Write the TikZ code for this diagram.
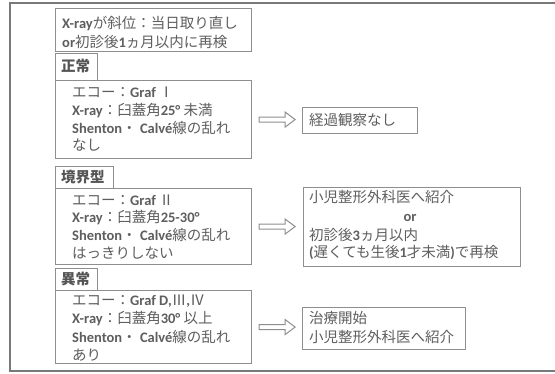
\documentclass[tikz,border=0pt]{standalone}
\usepackage{fontspec}
\setmainfont{Carlito}
\newfontfamily\jp{Noto Sans CJK JP}
\usetikzlibrary{calc}
\definecolor{txt}{HTML}{5E5E5E}
\definecolor{ln}{HTML}{8E8E8E}
\newcommand\J[1]{{\mdseries\jp #1}}
\tikzset{
  box/.style={draw=ln, line width=1.1pt, anchor=north west, inner sep=0pt, fill=white},
  tx/.style={anchor=base west, inner sep=0pt, text=txt, font=\fontsize{14.5}{17}\selectfont\bfseries},
  tabtx/.style={anchor=base west, inner sep=0pt, text=txt!90!black, font=\fontsize{14.5}{17}\selectfont\jp\bfseries},
  hollow/.style={draw=ln, line width=1pt, fill=white, line join=miter},
  frame/.style={draw=ln!85!black, line width=1.6pt}
}
\newcommand\harrow[1]{%
  \draw[hollow] ($(#1.east)+(7,2.5)$) -- ++(26,0) -- ++(0,5) -- ++(10,-7.5) -- ++(-10,-7.5) -- ++(0,5) -- ++(-26,0) -- cycle;}
\begin{document}
\begin{tikzpicture}[x=1pt,y=-1pt]
\fill[white] (0,0) rectangle (555,373);
\useasboundingbox (0,0) rectangle (555,373);
\coordinate (fa) at (556,3);
\coordinate (fb) at (10,371);
\coordinate (fc) at (556,371);
\draw[frame] (fa) -| (fb) -- (fc);

% top box
\node[box, minimum width=196, minimum height=43] (b0) at (55,8) {};
\node[tx] (b0a) at (62,28.5) {X-ray\J{が斜位：当日取り直し}};
\node[tx] (b0b) at (62,47.5) {or\J{初診後}1\J{ヵ月以内に再検}};

% normal
\node[box, minimum width=42, minimum height=27] (t1) at (55,53) {};
\node[tabtx] (t1a) at (61,71.5) {正常};
\node[box, minimum width=196, minimum height=78] (b1) at (55,80) {};
\node[tx] (b1a) at (72,97.5) {\J{エコー：}Graf \J{Ⅰ}};
\node[tx] (b1b) at (72,115.5) {X-ray\J{：臼蓋角}25° \J{未満}};
\node[tx] (b1c) at (72,133.5) {Shenton\J{・} Calvé\J{線の乱れ}};
\node[tx] (b1d) at (72,150.5) {\J{なし}};
\node[box, minimum width=115, minimum height=26] (r1) at (302,107) {};
\node[tx] (r1a) at (309,125.5) {\J{経過観察なし}};
\harrow{b1}

% borderline
\node[box, minimum width=58, minimum height=22] (t2) at (55,166) {};
\node[tabtx] (t2a) at (61,182.5) {境界型};
\node[box, minimum width=196, minimum height=76] (b2) at (55,188) {};
\node[tx] (b2a) at (72,205.5) {\J{エコー：}Graf \J{Ⅱ}};
\node[tx] (b2b) at (72,222.5) {X-ray\J{：臼蓋角}25-30°};
\node[tx] (b2c) at (72,240.5) {Shenton\J{・} Calvé\J{線の乱れ}};
\node[tx] (b2d) at (72,258.5) {\J{はっきりしない}};
\node[box, minimum width=217, minimum height=79] (r2) at (303,187) {};
\node[tx] (r2a) at (309,202.5) {\J{小児整形外科医へ紹介}};
\node[tx, anchor=base] (r2b) at (410,221) {or};
\node[tx] (r2c) at (309,240.5) {\J{初診後}3\J{ヵ月以内}};
\node[tx] (r2d) at (309,257.5) {(\J{遅くても生後}1\J{才未満})\J{で再検}};
\harrow{b2}

% abnormal
\node[box, minimum width=42, minimum height=22] (t3) at (55,268) {};
\node[tabtx] (t3a) at (61,284.5) {異常};
\node[box, minimum width=196, minimum height=73] (b3) at (55,290) {};
\node[tx] (b3a) at (72,305.5) {\J{エコー：}Graf D,\J{Ⅲ},\J{Ⅳ}};
\node[tx] (b3b) at (72,323.5) {X-ray\J{：臼蓋角}30° \J{以上}};
\node[tx] (b3c) at (72,342.5) {Shenton\J{・} Calvé\J{線の乱れ}};
\node[tx] (b3d) at (72,360) {\J{あり}};
\node[box, minimum width=163, minimum height=42] (r3) at (302,307) {};
\node[tx] (r3a) at (309,323.5) {\J{治療開始}};
\node[tx] (r3b) at (309,342.5) {\J{小児整形外科医へ紹介}};
\harrow{b3}
\end{tikzpicture}
\end{document}
